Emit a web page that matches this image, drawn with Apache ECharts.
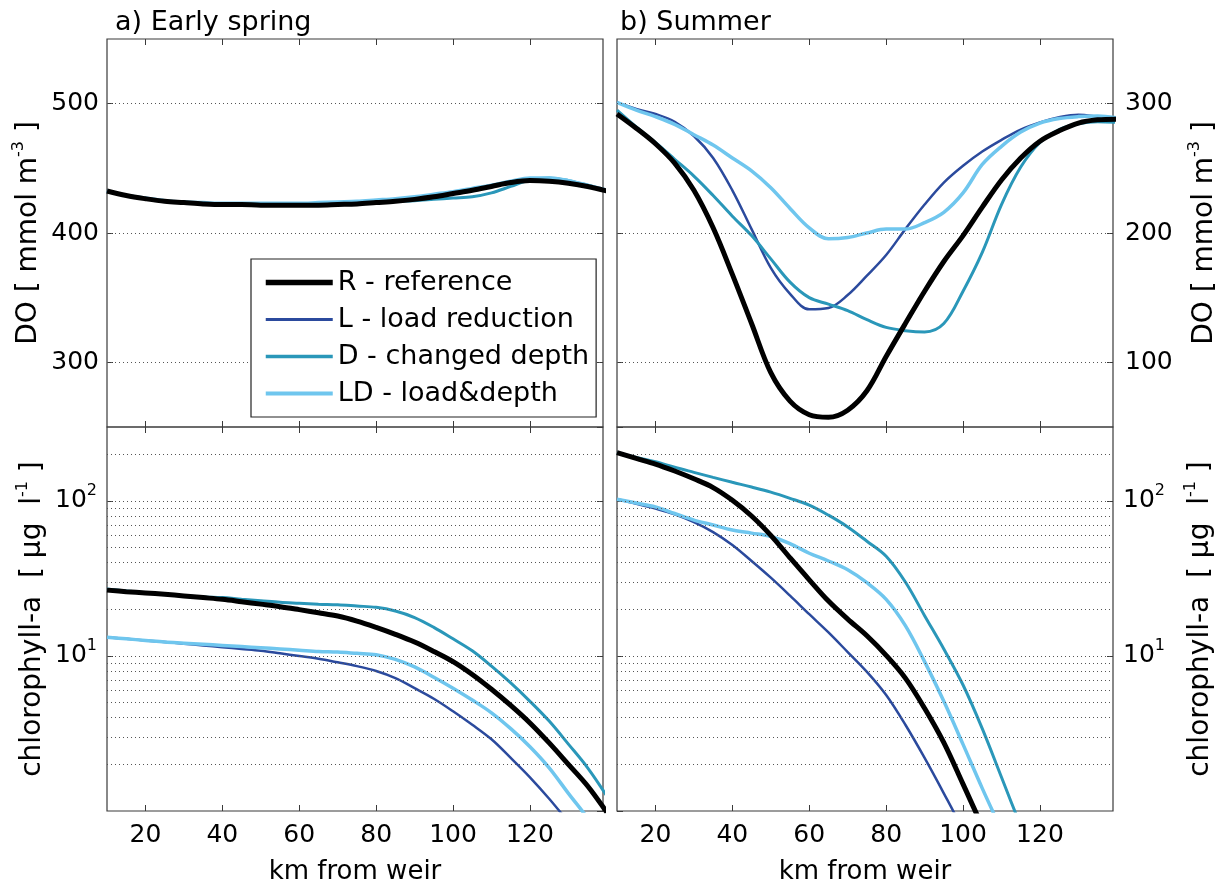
<!DOCTYPE html>
<html><head><meta charset="utf-8">
<script src="https://cdn.jsdelivr.net/npm/echarts@6/dist/echarts.min.js"></script>
<style>html,body{margin:0;padding:0;background:#fff}#c{width:1226px;height:886px}</style>
</head><body><div id="c"></div>
<script>
// ---------------- data ----------------
const xKm = [10,15,20,25,30,35,40,45,50,55,60,65,70,75,80,85,90,95,100,105,110,115,120,125,130,135,140];
const xTicks = [20,40,60,80,100,120];

// a) Early spring, DO [mmol m-3]
const springDO_R  = [432.5,429,426.5,424.5,423.5,422.5,422,422,421.5,421.5,421.5,421.5,422,422.5,423.5,424.5,426,428,430.5,433,436,439,440.5,440,438.5,436,432.5];
const springDO_L  = [432.5,429,426.5,424.5,423.5,422.5,422,422,421.5,421.5,421.5,421.5,422,422.5,423.5,424.5,426.5,428.5,431,434,437,439.5,441,440.5,439,436,432.5];
const springDO_D  = [432.5,429,426.5,424.5,423.5,423,422.5,422.5,422.5,422.5,422.5,422.5,423,423.5,424,424.5,425,426,427,428,431,436,441,442.5,440.5,437,433];
const springDO_LD = [432.5,429,427,425,424,423.5,423,423,423,423,423,423.5,424,424.5,425.5,426.5,428,430,432,434.5,437,440,442.5,442.5,440.5,437,433];

// b) Summer, DO [mmol m-3]
const summerDO_R  = [292,281,269,254,233,204,168,130,92,70,59.5,57.5,63,78,104.5,130,155,178,198,220,241,258,271,279,285,287.5,288];
const summerDO_L  = [301,296,292,286,275,258,233,203,173,153,141,142,152,167,183,203,222,239,252,263,272,280,285.5,289.5,291.5,290,288];
const summerDO_D  = [295,282,270,257,244,229,213,198,180,162,150,145,140,133,127,124.5,123.5,130,155,185,222,251,270,280,284.5,286,285.5];
const summerDO_LD = [301,295,290,284,276,268,258,248,235,219,204,195.5,196.5,200,203,203,208,216,231,253,267,278,285,288.5,290,290.5,289];

// a) Early spring, chlorophyll-a [ug l-1]
const springChl_R  = [26.6,26,25.5,25,24.4,23.8,23.2,22.4,21.6,20.8,19.9,19,18.1,16.8,15.3,13.8,12.3,10.7,9.2,7.6,6.1,4.8,3.7,2.75,2.0,1.45,0.98];
const springChl_L  = [13.2,12.9,12.6,12.3,12.0,11.7,11.4,11.1,10.8,10.4,10.0,9.6,9.1,8.6,8.0,7.2,6.2,5.3,4.4,3.6,2.9,2.2,1.65,1.2,0.85,0.6,0.42];
const springChl_D  = [27,26.3,25.6,25,24.5,24,23.8,23.2,22.7,22.2,21.9,21.6,21.4,21,20.6,19.5,17.7,15.3,12.9,10.8,8.6,6.7,5.1,3.8,2.7,1.9,1.25];
const springChl_LD = [13.2,12.9,12.6,12.3,12.1,11.9,11.7,11.5,11.3,11.1,10.9,10.7,10.6,10.4,10.2,9.5,8.5,7.3,6.2,5.2,4.3,3.4,2.6,1.9,1.3,0.9,0.6];

// b) Summer, chlorophyll-a [ug l-1]
const summerChl_R  = [205,188,173,156,139,122,101,80,60,43,31,22.6,17.3,13.5,10.1,7.2,4.6,2.76,1.49,0.8,0.45,null,null,null,null,null,null];
const summerChl_L  = [102.5,96,89.3,82,73,63,52,41,32,24.5,18.6,14.2,10.6,7.9,5.6,3.6,2.2,1.3,0.75,0.4,null,null,null,null,null,null,null];
const summerChl_D  = [205,191,179,165,153,142,132,123,114,104,94,81,68,55,44,30,18.2,11.1,6.5,3.4,1.65,0.8,0.4,null,null,null,null];
const summerChl_LD = [102.5,97,91.6,83,75.3,70,65,62,59,53,46,41,36,29.7,23.2,15.7,9.2,5.1,2.69,1.4,0.75,0.4,null,null,null,null,null];

const doTicksLeft  = [300,400,500];
const doTicksRight = [100,200,300];
const chlGrid = [2,3,4,5,6,7,8,9,10,20,30,40,50,60,70,80,90,100,200];

const names  = ['R - reference','L - load reduction','D - changed depth','LD - load&depth'];
const colors = ['#000000','#2b4a9d','#2a97b9','#6fc6ee'];
const widths = [5,2.5,3,3.5];

// ---------------- chart ----------------
const FONT = 'DejaVu Sans';
const TXT = '#000';
const FRAME = '#3a3a3a';
const sup = {fontSize: 16, fontFamily: FONT, color: TXT, padding: [0,0,20,0]};

const grids = [
  {left:107, top:39, width:496, height:388},
  {left:617, top:39, width:496, height:388},
  {left:107, top:427, width:496, height:386},
  {left:617, top:427, width:496, height:386}
].map(g => Object.assign({show:true, borderColor:FRAME, borderWidth:1.2, backgroundColor:'transparent'}, g));

const xAxes = [];
for (let i = 0; i < 4; i++) {
  const bottomPanel = i >= 2;
  xAxes.push({
    gridIndex:i, type:'value', min:10, max:139, position:'bottom',
    axisLine:{show:false},
    axisTick:{show:true, inside:true, length:6, customValues:xTicks, lineStyle:{color:FRAME, width:1}},
    axisLabel:{show:bottomPanel, customValues:xTicks, fontSize:25, fontFamily:FONT, color:TXT, margin:12},
    splitLine:{show:false},
    name: bottomPanel ? 'km from weir' : '', nameLocation:'middle', nameGap:48,
    nameTextStyle:{fontSize:26, fontFamily:FONT, color:TXT}
  });
  xAxes.push({
    gridIndex:i, type:'value', min:10, max:139, position:'top',
    axisLine:{show:false},
    axisTick:{show:true, inside:true, length:6, customValues:xTicks, lineStyle:{color:FRAME, width:1}},
    axisLabel:{show:false}, splitLine:{show:false}
  });
}

function linY(grid, min, max, ticks, labelSide) {
  const res = [];
  ['left','right'].forEach(side => {
    const lab = side === labelSide;
    res.push({
      gridIndex:grid, type:'value', min:min, max:max, position:side,
      axisLine:{show:false},
      axisTick:{show:true, inside:true, length:6, customValues:ticks, lineStyle:{color:FRAME, width:1}},
      axisLabel:{show:lab, customValues:ticks, fontSize:25, fontFamily:FONT, color:TXT, margin:lab && side==='left' ? 8 : 12},
      splitLine:{show:false},
      name: lab ? 'DO [ mmol m{s|-3} ]' : '', nameLocation:'middle', nameRotate:90,
      nameGap: side==='left' ? 60 : 74,
      nameTextStyle:{fontSize:28, fontFamily:FONT, color:TXT, rich:{s:sup}}
    });
  });
  return res;
}
function logY(grid, labelSide) {
  const res = [];
  ['left','right'].forEach(side => {
    const lab = side === labelSide;
    res.push({
      gridIndex:grid, type:'log', logBase:10, min:1, max:300, position:side,
      axisLine:{show:false},
      axisTick:{show:true, inside:true, length:6, lineStyle:{color:FRAME, width:1}},
      axisLabel:{show:lab, showMinLabel:false, showMaxLabel:false, fontSize:25, fontFamily:FONT, color:TXT, margin:10,
        formatter: v => (Math.abs(v-10)<1e-6 ? '10{s|1}' : (Math.abs(v-100)<1e-6 ? '10{s|2}' : '')),
        rich:{s:sup}},
      splitLine:{show:false}, minorTick:{show:false},
      name: lab ? 'chlorophyll-a  [ μg  l{s|-1} ]' : '', nameLocation:'middle', nameRotate:90,
      nameGap: side==='left' ? 56 : 70,
      nameTextStyle:{fontSize:28, fontFamily:FONT, color:TXT, rich:{s:sup}}
    });
  });
  return res;
}
const yAxes = [].concat(
  linY(0, 250, 550, doTicksLeft, 'left'),
  linY(1, 50, 350, doTicksRight, 'right'),
  logY(2, 'left'),
  logY(3, 'right')
);

const panelData = [
  [springDO_R, springDO_L, springDO_D, springDO_LD],
  [summerDO_R, summerDO_L, summerDO_D, summerDO_LD],
  [springChl_R, springChl_L, springChl_D, springChl_LD],
  [summerChl_R, summerChl_L, summerChl_D, summerChl_LD]
];
const gridLines = [doTicksLeft, doTicksRight, chlGrid, chlGrid];

const series = [];
for (let p = 0; p < 4; p++) {
  series.push({
    type:'line', name:'_grid'+p, xAxisIndex:2*p, yAxisIndex:2*p, data:[], z:1, silent:true,
    markLine:{silent:true, symbol:'none', animation:false, label:{show:false},
      lineStyle:{type:[1,3], color:'#555', width:1},
      data: gridLines[p].map(v => ({yAxis:v}))}
  });
  [1,2,3,0].forEach(k => {
    series.push({
      type:'line', name:names[k], xAxisIndex:2*p, yAxisIndex:2*p,
      data: xKm.map((x,j) => [x, panelData[p][k][j]]),
      symbol:'none', smooth:0.35, connectNulls:false, clip:true, z: k===0 ? 5 : 3,
      lineStyle:{color:colors[k], width:widths[k]}, itemStyle:{color:colors[k]},
      animation:false
    });
  });
}

const chart = echarts.init(document.getElementById('c'), null, {renderer:'canvas'});
chart.setOption({
  backgroundColor:'#fff',
  animation:false,
  title:[
    {text:'a) Early spring', left:115, top:9, padding:0, textStyle:{fontSize:27, fontWeight:'normal', fontFamily:FONT, color:TXT}},
    {text:'b) Summer', left:620, top:9, padding:0, textStyle:{fontSize:27, fontWeight:'normal', fontFamily:FONT, color:TXT}}
  ],
  legend:{
    data: names.map((n,k) => ({name:n, lineStyle:{color:colors[k], width:widths[k]+0.5}, itemStyle:{opacity:0}})),
    orient:'vertical', left:251, top:259, z:10,
    backgroundColor:'#fff', borderColor:'#222', borderWidth:1.2, borderRadius:0,
    padding:[10,7,10,12], itemWidth:67, itemHeight:14, itemGap:10,
    itemStyle:{opacity:0},
    textStyle:{fontSize:27, fontFamily:FONT, color:TXT},
    selectedMode:false
  },
  grid:grids, xAxis:xAxes, yAxis:yAxes, series:series
});
</script>
</body></html>
